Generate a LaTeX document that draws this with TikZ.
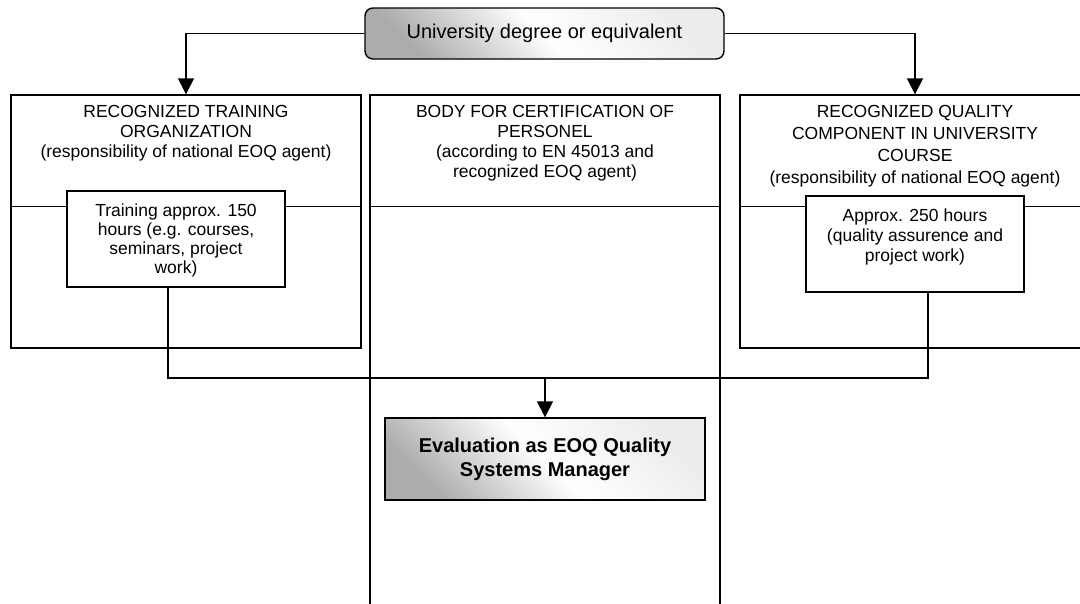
\documentclass[tikz,border=0pt]{standalone}
\usepackage{fontspec}
\setmainfont{Liberation Sans}
\usetikzlibrary{arrows.meta, positioning, calc}

\begin{document}
\begin{tikzpicture}[x=1pt, y=-1pt, line width=1.4pt,
    lane/.style={draw, minimum width=350pt, minimum height=253pt, inner sep=0pt},
    lanetext/.style={align=center, font=\fontsize{17.5}{20}\selectfont},
    stepbox/.style={draw, fill=white, minimum width=218pt, minimum height=96pt, inner sep=0pt},
    shadebox/.style={draw, top color=gray!15, bottom color=gray!65, middle color=white, shading angle=-45},
    flow/.style={-{Triangle[length=16pt,width=16pt]}}]
        \clip (0,0) rectangle (1080,603);

        % Entry requirement
        \node[shadebox, rounded corners=8pt, minimum width=359pt, minimum height=51pt, font=\fontsize{20}{24}\selectfont] (degree) at (544.5,33.5) {University degree or equivalent};

        % Three lanes
        \node[lane] (rto) at (186,221.5) {};
        \node[lane, minimum height=525pt] (bcp) at (545,357.5) {};
        \node[lane] (rqc) at (915,221.5) {};
        \foreach \n in {rto,bcp,rqc}
            \draw ($(\n.north west)+(0,112)$) -- ($(\n.north east)+(0,112)$);

        \node[lanetext] (rtotitle) at (186,133) {RECOGNIZED TRAINING\\ORGANIZATION\\(responsibility of national EOQ agent)};
        \node[lanetext] (bcptitle) at (545,143) {BODY FOR CERTIFICATION OF\\PERSONEL\\(according to EN 45013 and\\recognized EOQ agent)};
        \node[lanetext, font=\fontsize{17.5}{22}\selectfont] (rqctitle) at (915,146) {RECOGNIZED QUALITY\\COMPONENT IN UNIVERSITY\\COURSE\\(responsibility of national EOQ agent)};

        % Training boxes
        \node[stepbox] (training) at (176,239) {};
        \node[lanetext, font=\fontsize{17.5}{19}\selectfont] (trainingtext) at (176,240) {Training approx. 150\\hours (e.g. courses,\\seminars, project\\work)};
        \node[stepbox] (approx) at (915,244) {};
        \node[lanetext] (approxtext) at (915,237) {Approx. 250 hours\\(quality assurence and\\project work)};

        % Evaluation
        \node[shadebox, minimum width=320pt, minimum height=82pt, align=center, font=\bfseries\fontsize{20}{24}\selectfont] (eval) at (545,459) {Evaluation as EOQ Quality\\Systems Manager};

        % Flow arrows
        \draw[flow] (degree.west) -| (rto.north);
        \draw[flow] (degree.east) -| (rqc.north);
        \coordinate (merge) at (eval.north |- 0,378);
        \draw ([xshift=-8pt]training.south) |- (merge) -| ([xshift=13pt]approx.south);
        \draw[flow] (merge) -- (eval.north);
\end{tikzpicture}
\end{document}
